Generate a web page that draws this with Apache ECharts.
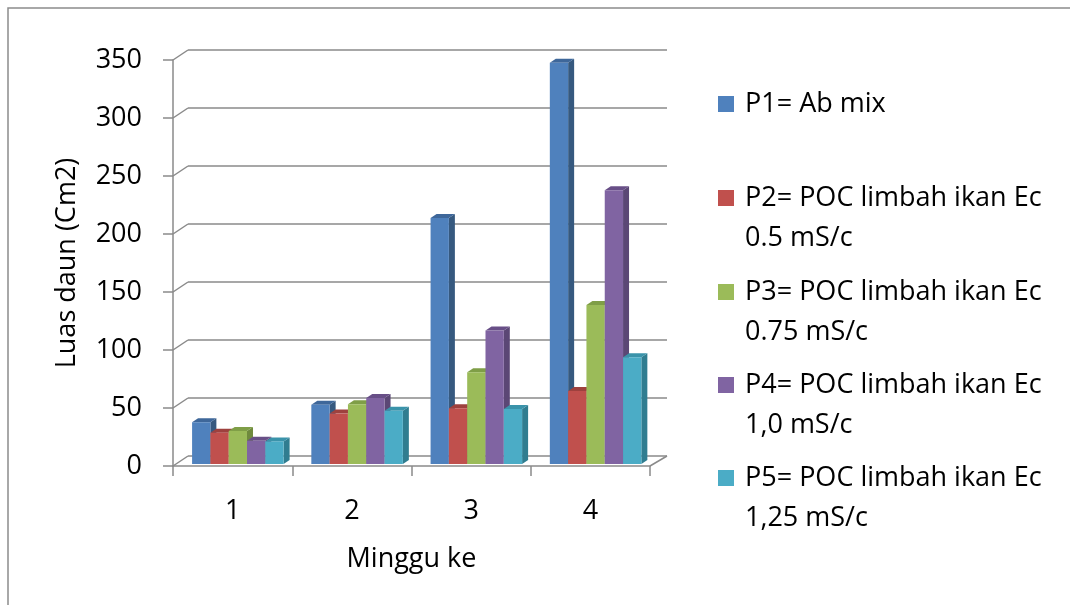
<!DOCTYPE html>
<html>
<head>
<meta charset="utf-8">
<title>Luas daun</title>
<script src="https://cdn.jsdelivr.net/npm/echarts@6/dist/echarts.min.js"></script>
<style>
  html, body { margin: 0; padding: 0; background: #fff; }
  #chart { width: 1070px; height: 605px; }
</style>
</head>
<body>
<div id="chart"></div>
<script>
// Weeks on the category axis
const weeks = ['1', '2', '3', '4'];
// Value axis ticks
const yTicks = [0, 50, 100, 150, 200, 250, 300, 350];

// Leaf area (cm2) per treatment, week 1..4
const p1 = [36, 51, 212, 346];
const p2 = [27, 43.5, 48, 63];
const p3 = [28.5, 51.5, 79, 137];
const p4 = [20, 57, 115, 236];
const p5 = [19.5, 46, 47.5, 92];

const names = [
  'P1= Ab mix',
  'P2= POC limbah ikan Ec\n0.5 mS/c',
  'P3= POC limbah ikan Ec\n0.75 mS/c',
  'P4= POC limbah ikan Ec\n1,0 mS/c',
  'P5= POC limbah ikan Ec\n1,25 mS/c'
];
const values = [p1, p2, p3, p4, p5];

const faceColors = ['#4F81BD', '#C0504D', '#9BBB59', '#8064A2', '#4BACC6'];
const sideColors = ['#36597F', '#8A3735', '#6F8A3D', '#5B4775', '#307D90'];
const topColors  = ['#3E679A', '#9E413E', '#7F9E47', '#684F87', '#3A93AA'];

const FONT = '"Open Sans", sans-serif';
const GRID_COLOR = '#8a8a8a';
const DEPTH_X = 6, DEPTH_Y = 4;      // bar depth (side / top faces)
const BAR_SHIFT_X = 0, BAR_SHIFT_Y = -2;
const WALL_DX = 15, WALL_DY = 10;    // back wall offset from the front axis

function barRenderer(k) {
  return function (params, api) {
    const i = api.value(0);
    const v = api.value(1);
    const bandW = api.size([1, 0])[0];
    const base = api.coord([i, 0]);
    const topP = api.coord([i, v]);
    const bandStart = base[0] - bandW / 2;
    const w = bandW * 0.1535;
    const x0 = bandStart + bandW * 0.16 + k * w + BAR_SHIFT_X;
    const x1 = x0 + w;
    const yb = base[1] + BAR_SHIFT_Y;
    const yt = topP[1] + BAR_SHIFT_Y;
    return {
      type: 'group',
      children: [
        { type: 'polygon', shape: { points: [[x1, yt], [x1 + DEPTH_X, yt - DEPTH_Y], [x1 + DEPTH_X, yb - DEPTH_Y], [x1, yb]] },
          style: { fill: sideColors[k] } },
        { type: 'polygon', shape: { points: [[x0, yt], [x0 + DEPTH_X, yt - DEPTH_Y], [x1 + DEPTH_X, yt - DEPTH_Y], [x1, yt]] },
          style: { fill: topColors[k] } },
        { type: 'rect', shape: { x: x0, y: yt, width: w, height: yb - yt },
          style: { fill: faceColors[k] } }
      ]
    };
  };
}

// Diagonal edges joining the front axis to the back wall
function frameRenderer(params, api) {
  const cs = params.coordSys;
  const v = api.value(0);
  const y = api.coord([0, v])[1];
  const children = [{
    type: 'line',
    shape: { x1: cs.x, y1: y, x2: cs.x + WALL_DX, y2: y - WALL_DY },
    style: { stroke: GRID_COLOR, lineWidth: 1.5 }
  }];
  if (v === 0) {
    children.push({
      type: 'line',
      shape: { x1: cs.x + cs.width, y1: y, x2: cs.x + cs.width + WALL_DX + 2, y2: y - WALL_DY },
      style: { stroke: GRID_COLOR, lineWidth: 1.5 }
    });
  }
  return { type: 'group', children: children };
}

// Legend label: the first line sits level with the colour square
function legendLabel(name) {
  const lines = name.split('\n');
  const body = lines.map(l => '{t|' + l + '}').join('\n');
  return lines.length > 1 ? '{t| }\n' + body : body;
}

const chart = echarts.init(document.getElementById('chart'), null, { renderer: 'canvas' });

const legendTops = [84, 138, 232, 325, 418];
const legends = names.map((n, k) => ({
  data: [n],
  left: 718,
  top: legendTops[k],
  padding: 0,
  itemWidth: 16,
  itemHeight: 16,
  itemGap: 0,
  icon: 'rect',
  selectedMode: false,
  formatter: legendLabel,
  textStyle: {
    fontFamily: FONT, fontSize: 27, color: '#000', lineHeight: 40,
    rich: {
      t: { fontFamily: FONT, fontSize: 27, color: '#000', lineHeight: 40, padding: [0, 0, 0, 6] }
    }
  }
}));

const series = values.map((vals, k) => ({
  type: 'custom',
  name: names[k],
  xAxisIndex: 0,
  yAxisIndex: 0,
  itemStyle: { color: faceColors[k] },
  data: vals.map((v, i) => [i, v]),
  encode: { x: 0, y: 1 },
  renderItem: barRenderer(k),
  z: 3
}));

series.push({
  type: 'custom',
  name: 'frame',
  xAxisIndex: 0,
  yAxisIndex: 0,
  data: yTicks.map(v => [v]),
  encode: { y: 0 },
  renderItem: frameRenderer,
  silent: true,
  z: 1
});

chart.setOption({
  animation: false,
  backgroundColor: '#fff',
  textStyle: { fontFamily: FONT },
  graphic: [{
    type: 'rect',
    shape: { x: 8, y: 8, width: 1100, height: 640 },
    style: { fill: 'none', stroke: '#8c8c8c', lineWidth: 1.5 },
    silent: true
  }],
  legend: legends,
  grid: [
    { left: 173, top: 60, width: 477, height: 406 },
    { left: 173 + WALL_DX, top: 60 - WALL_DY, width: 479, height: 406 }
  ],
  xAxis: [
    {
      gridIndex: 0, type: 'category', data: weeks,
      name: 'Minggu ke', nameLocation: 'middle', nameGap: 80,
      nameTextStyle: { fontFamily: FONT, fontSize: 27, color: '#000' },
      axisLine: { show: true, lineStyle: { color: GRID_COLOR, width: 1.5 } },
      axisTick: { show: true, length: 10, lineStyle: { color: GRID_COLOR, width: 1.5 } },
      axisLabel: { fontFamily: FONT, fontSize: 27, color: '#000', margin: 32 },
      splitLine: { show: false }
    },
    { gridIndex: 1, type: 'category', data: weeks, show: false }
  ],
  yAxis: [
    {
      gridIndex: 0, type: 'value', min: 0, max: 350, interval: 50,
      name: 'Luas daun (Cm2)', nameLocation: 'middle', nameGap: 92, nameRotate: 90,
      nameTextStyle: { fontFamily: FONT, fontSize: 27, color: '#000' },
      axisLine: { show: true, lineStyle: { color: GRID_COLOR, width: 1.5 } },
      axisTick: { show: true, length: 10, lineStyle: { color: GRID_COLOR, width: 1.5 } },
      axisLabel: { fontFamily: FONT, fontSize: 27, color: '#000', margin: 31 },
      splitLine: { show: false }
    },
    {
      gridIndex: 1, type: 'value', min: 0, max: 350, interval: 50,
      axisLine: { show: false }, axisTick: { show: false }, axisLabel: { show: false },
      splitLine: { show: true, lineStyle: { color: GRID_COLOR, width: 1.5 } }
    }
  ],
  series: series
});
</script>
</body>
</html>
